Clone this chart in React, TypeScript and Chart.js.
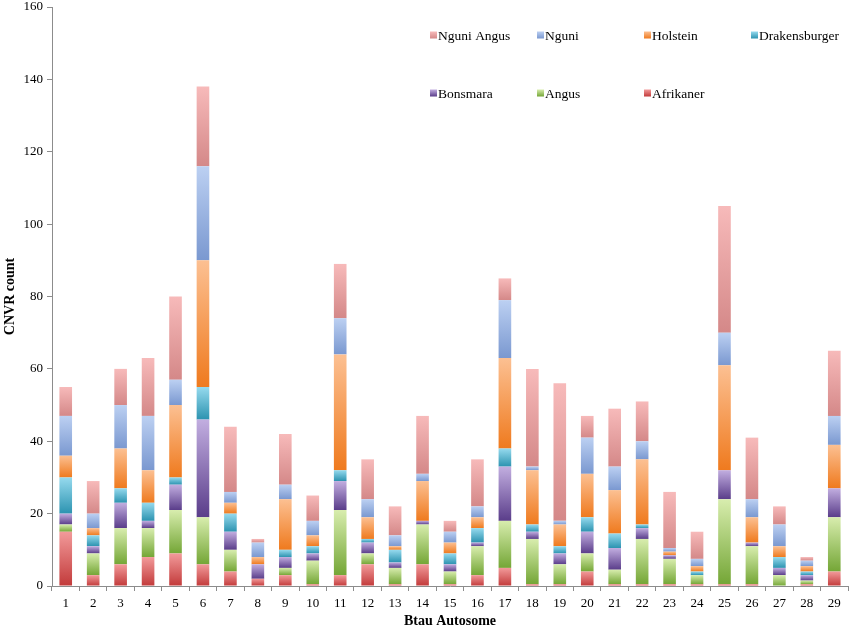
import React, { useEffect, useRef } from "react";
import { Chart, registerables } from "chart.js";

Chart.register(...registerables);

const categories = [
  "1", "2", "3", "4", "5", "6", "7", "8", "9", "10",
  "11", "12", "13", "14", "15", "16", "17", "18", "19", "20",
  "21", "22", "23", "24", "25", "26", "27", "28", "29",
];

const afrikaner = [15, 3, 6, 8, 9, 6, 4, 2, 3, 0.5, 3, 6, 0.5, 6, 0.5, 3, 5, 0.5, 0.5, 4, 0.5, 0.5, 0.5, 0.5, 0.5, 0.5, 0, 0.5, 4];
const angus = [2, 6, 10, 8, 12, 13, 6, 0, 2, 6.5, 18, 3, 4.5, 11, 3.5, 8, 13, 12.5, 5.5, 5, 4, 12.5, 7, 2.5, 23.5, 10.5, 3, 1, 15];
const bonsmara = [3, 2, 7, 2, 7, 27, 5, 4, 3, 2, 8, 3, 1.5, 1, 2, 1, 15, 2, 3, 6, 6, 3, 1, 0, 8, 1, 2, 1.5, 8];
const drakensburger = [10, 3, 4, 5, 2, 9, 5, 0, 2, 2, 3, 1, 3.5, 0, 3, 4, 5, 2, 2, 4, 4, 1, 0, 1, 0, 0, 3, 1, 0];
const holstein = [6, 2, 11, 9, 20, 35, 3, 2, 14, 3, 32, 6, 1, 11, 3, 3, 25, 15, 6, 12, 12, 18, 1, 1.5, 29, 7, 3, 1.5, 12];
const nguni = [11, 4, 12, 15, 7, 26, 3, 4, 4, 4, 10, 5, 3, 2, 3, 3, 16, 1, 1, 10, 6.5, 5, 1, 2, 9, 5, 6, 1.5, 8];
const nguniAngus = [8, 9, 10, 16, 23, 22, 18, 1, 14, 7, 15, 11, 8, 16, 3, 13, 6, 27, 38, 6, 16, 11, 15.5, 7.5, 35, 17, 5, 1, 18];

const seriesNames = ["Afrikaner", "Angus", "Bonsmara", "Drakensburger", "Holstein", "Nguni", "Nguni Angus"];
const seriesValues = [afrikaner, angus, bonsmara, drakensburger, holstein, nguni, nguniAngus];
const lightColors = ["#F29A9A", "#D8EDAE", "#C2AEE0", "#96DAEE", "#FCC092", "#BCD0F2", "#F7BABA"];
const darkColors = ["#C23A3A", "#74A636", "#5A3D8A", "#2C93B0", "#EF7A1E", "#7A98D0", "#D48888"];
const midColors = ["#D9595A", "#9BC95A", "#8064A2", "#4BACC6", "#F79646", "#95B3E0", "#E3A3A3"];

const yTicks = [0, 20, 40, 60, 80, 100, 120, 140, 160];

const FONT = "'Liberation Serif', 'Times New Roman', serif";

function gradientFor(ctx: any, si: number) {
  const chart = ctx.chart;
  const y = chart.scales && chart.scales.y;
  if (!y || ctx.type !== "data") return midColors[si];
  const i = ctx.dataIndex;
  let base = 0;
  for (let k = 0; k < si; k++) base += seriesValues[k][i];
  const top = base + seriesValues[si][i];
  const py0 = y.getPixelForValue(top);
  const py1 = y.getPixelForValue(base);
  if (!isFinite(py0) || !isFinite(py1) || py1 - py0 < 1) return midColors[si];
  const g = chart.ctx.createLinearGradient(0, py0, 0, py1);
  g.addColorStop(0, lightColors[si]);
  g.addColorStop(1, darkColors[si]);
  return g;
}

const legendPlugin = {
  id: "gridLegend",
  afterDraw(chart: any) {
    const { ctx, chartArea } = chart;
    const order = [6, 5, 4, 3, 2, 1, 0];
    ctx.save();
    ctx.font = `13.5px ${FONT}`;
    ctx.textBaseline = "middle";
    ctx.textAlign = "left";
    order.forEach((si, n) => {
      const col = n % 4;
      const row = Math.floor(n / 4);
      const x = chartArea.left + 378 + col * 107;
      const yy = chartArea.top + 28 + row * 58;
      const g = ctx.createLinearGradient(0, yy - 3.5, 0, yy + 3.5);
      g.addColorStop(0, lightColors[si]);
      g.addColorStop(1, darkColors[si]);
      ctx.fillStyle = g;
      ctx.fillRect(x, yy - 3.5, 7, 7);
      ctx.fillStyle = "#000";
      ctx.fillText(seriesNames[si], x + 8, yy + 1);
    });
    ctx.restore();
  },
};

export default function App() {
  const ref = useRef<HTMLCanvasElement | null>(null);

  useEffect(() => {
    if (!ref.current) return;
    const chart = new Chart(ref.current, {
      type: "bar",
      data: {
        labels: categories,
        datasets: seriesNames.map((name, si) => ({
          label: name,
          data: seriesValues[si],
          backgroundColor: (c: any) => gradientFor(c, si),
          borderWidth: 0,
          barPercentage: 0.46,
          categoryPercentage: 1,
        })),
      },
      options: {
        responsive: false,
        animation: false,
        layout: { padding: { left: 0, right: 3, top: 7, bottom: 0 } },
        plugins: {
          legend: { display: false },
          tooltip: { enabled: false },
        },
        scales: {
          x: {
            stacked: true,
            offset: true,
            grid: {
              display: true,
              drawOnChartArea: false,
              drawTicks: true,
              tickLength: 5,
              offset: true,
              color: "#8C8C8C",
            },
            border: { color: "#8C8C8C", width: 1 },
            ticks: {
              color: "#000",
              font: { family: FONT, size: 13 },
              padding: 5,
              maxRotation: 0,
              autoSkip: false,
            },
            title: {
              display: true,
              text: "Btau Autosome",
              color: "#000",
              font: { family: FONT, size: 14, weight: "bold" },
              padding: { top: 0, bottom: 0 },
            },
            afterFit: (s: any) => {
              s.height = 44;
              s.paddingLeft = 0;
              s.paddingRight = 0;
            },
          },
          y: {
            stacked: true,
            min: 0,
            max: 160,
            afterBuildTicks: (s: any) => {
              s.ticks = yTicks.map((v) => ({ value: v }));
            },
            grid: {
              display: true,
              drawOnChartArea: false,
              drawTicks: true,
              tickLength: 5,
              color: "#8C8C8C",
            },
            border: { color: "#8C8C8C", width: 1 },
            ticks: {
              color: "#000",
              font: { family: FONT, size: 13 },
              padding: 4,
            },
            title: {
              display: true,
              text: "CNVR count",
              color: "#000",
              font: { family: FONT, size: 14, weight: "bold" },
              padding: { top: 2, bottom: 0 },
            },
            afterFit: (s: any) => {
              s.width = 52;
              s.paddingTop = 0;
              s.paddingBottom = 0;
            },
          },
        },
      },
      plugins: [legendPlugin],
    });
    return () => chart.destroy();
  }, []);

  return (
    <div style={{ position: "fixed", left: 0, top: 0, width: 851, height: 630, background: "#fff" }}>
      <canvas ref={ref} width={851} height={630} style={{ width: 851, height: 630, display: "block" }} />
    </div>
  );
}
